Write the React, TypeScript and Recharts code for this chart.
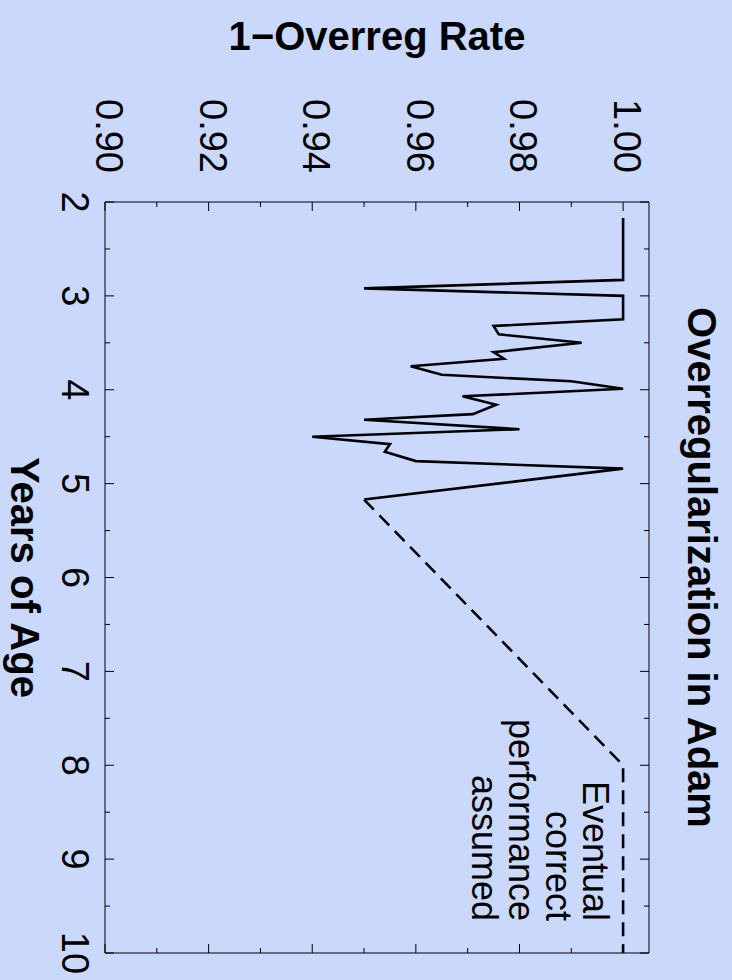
import { Line, LineChart, XAxis, YAxis } from "recharts";

// ages in years, rate = 1 - overregularization rate
const observedAges = [
  2.17, 2.83, 2.92, 3.0, 3.25, 3.32, 3.41, 3.5, 3.6, 3.67, 3.75, 3.84, 3.91, 3.99, 4.07, 4.16, 4.26, 4.32,
  4.42, 4.5, 4.58, 4.66, 4.76, 4.84, 5.17,
];
const observedRates = [
  1.0, 1.0, 0.95, 1.0, 1.0, 0.975, 0.976, 0.992, 0.975, 0.977, 0.959, 0.965, 0.99, 1.0, 0.969, 0.9755, 0.971,
  0.95, 0.98, 0.94, 0.955, 0.954, 0.96, 1.0, 0.95,
];

const assumedAges = [5.17, 8, 10];
const assumedRates = [0.95, 1.0, 1.0];

const ageTicks = [2, 2.5, 3, 3.5, 4, 4.5, 5, 5.5, 6, 6.5, 7, 7.5, 8, 8.5, 9, 9.5, 10];
const rateTicks = [0.9, 0.91, 0.92, 0.93, 0.94, 0.95, 0.96, 0.97, 0.98, 0.99, 1.0];
const annotationLines = ["Eventual", "correct", "performance", "assumed"];

const BG = "#cad8fc";
const FONT = "'Liberation Sans', Arial, Helvetica, sans-serif";

const observed = observedAges.map((age, i) => ({ age, rate: observedRates[i] }));
const assumed = assumedAges.map((age, i) => ({ age, rate: assumedRates[i] }));

const isMajorAge = (v: number) => Number.isInteger(v);
const isMajorRate = (v: number) => Math.round(v * 100) % 2 === 0;

function BottomAgeTick({ x, y, payload }: any) {
  const major = isMajorAge(payload.value);
  return (
    <g>
      <line x1={x} y1={y} x2={x} y2={y - (major ? 9 : 5)} stroke="#000" />
      {major && (
        <text x={x} y={y + 43} textAnchor="middle" fontSize={38} fontFamily={FONT} fill="#000">
          {payload.value}
        </text>
      )}
    </g>
  );
}

function TopAgeTick({ x, y, payload }: any) {
  const major = isMajorAge(payload.value);
  return <line x1={x} y1={y} x2={x} y2={y + (major ? 9 : 5)} stroke="#000" />;
}

function LeftRateTick({ x, y, payload }: any) {
  const major = isMajorRate(payload.value);
  return (
    <g>
      <line x1={x} y1={y} x2={x + (major ? 9 : 5)} y2={y} stroke="#000" />
      {major && (
        <text x={x - 29} y={y + 9} textAnchor="end" fontSize={38} fontFamily={FONT} fill="#000">
          {payload.value.toFixed(2)}
        </text>
      )}
    </g>
  );
}

function RightRateTick({ x, y, payload }: any) {
  const major = isMajorRate(payload.value);
  return <line x1={x} y1={y} x2={x - (major ? 9 : 5)} y2={y} stroke="#000" />;
}

function ChartTitle({ viewBox }: any) {
  const { x, y, width } = viewBox;
  return (
    <text x={x + width / 2 - 10} y={y - 38} textAnchor="middle" fontSize={40} fontWeight="bold" fontFamily={FONT} fill="#000">
      Overregularization in Adam
    </text>
  );
}

function AgeTitle({ viewBox }: any) {
  const { x, y, width } = viewBox;
  return (
    <text x={x + width / 2} y={y + 94} textAnchor="middle" fontSize={40} fontWeight="bold" fontFamily={FONT} fill="#000">
      Years of Age
    </text>
  );
}

function RateTitle({ viewBox }: any) {
  const { y, height } = viewBox;
  const cx = 50;
  const cy = y + height / 2;
  return (
    <text
      x={cx}
      y={cy}
      transform={`rotate(-90, ${cx}, ${cy})`}
      textAnchor="middle"
      fontSize={40}
      fontWeight="bold"
      fontFamily={FONT}
      fill="#000"
    >
      1−Overreg Rate
    </text>
  );
}

function Annotation({ viewBox }: any) {
  const { x, y } = viewBox;
  return (
    <text textAnchor="end" fontSize={36} fontFamily={FONT} fill="#000">
      {annotationLines.map((line, i) => (
        <tspan key={line} x={x - 32} y={y + 66 + i * 37}>
          {line}
        </tspan>
      ))}
    </text>
  );
}

export default function App() {
  return (
    <div style={{ position: "absolute", left: 0, top: 0, width: 732, height: 980, background: BG, overflow: "hidden" }}>
      <div
        style={{
          position: "absolute",
          left: 0,
          top: 0,
          width: 980,
          height: 732,
          transformOrigin: "0 0",
          transform: "translate(732px, 0) rotate(90deg)",
        }}
      >
        <LineChart width={980} height={732} margin={{ top: 82, right: 26, bottom: 0, left: 0 }}>
          <XAxis
            xAxisId={0}
            dataKey="age"
            type="number"
            domain={[2, 10]}
            ticks={ageTicks}
            interval={0}
            allowDataOverflow
            height={105}
            tickSize={0}
            tickMargin={0}
            tickLine={false}
            axisLine={{ stroke: "#000" }}
            tick={<BottomAgeTick />}
            label={(props: any) => <AgeTitle {...props} />}
          />
          <XAxis
            xAxisId="top"
            orientation="top"
            dataKey="age"
            type="number"
            domain={[2, 10]}
            ticks={ageTicks}
            interval={0}
            allowDataOverflow
            height={1}
            tickSize={0}
            tickMargin={0}
            tickLine={false}
            axisLine={{ stroke: "#000" }}
            tick={<TopAgeTick />}
            label={(props: any) => <ChartTitle {...props} />}
          />
          <YAxis
            yAxisId={0}
            type="number"
            domain={[0.9, 1.005]}
            ticks={rateTicks}
            interval={0}
            allowDataOverflow
            width={202}
            tickSize={0}
            tickMargin={0}
            tickLine={false}
            axisLine={{ stroke: "#000" }}
            tick={<LeftRateTick />}
            label={(props: any) => <RateTitle {...props} />}
          />
          <YAxis
            yAxisId="right"
            orientation="right"
            type="number"
            domain={[0.9, 1.005]}
            ticks={rateTicks}
            interval={0}
            allowDataOverflow
            width={1}
            tickSize={0}
            tickMargin={0}
            tickLine={false}
            axisLine={{ stroke: "#000" }}
            tick={<RightRateTick />}
            label={(props: any) => <Annotation {...props} />}
          />
          <Line
            data={observed}
            dataKey="rate"
            xAxisId={0}
            yAxisId={0}
            type="linear"
            stroke="#000"
            strokeWidth={2.6}
            dot={false}
            activeDot={false}
            isAnimationActive={false}
          />
          <Line
            data={assumed}
            dataKey="rate"
            xAxisId={0}
            yAxisId={0}
            type="linear"
            stroke="#000"
            strokeWidth={2.6}
            strokeDasharray="14 8"
            dot={false}
            activeDot={false}
            isAnimationActive={false}
          />
        </LineChart>
      </div>
    </div>
  );
}
